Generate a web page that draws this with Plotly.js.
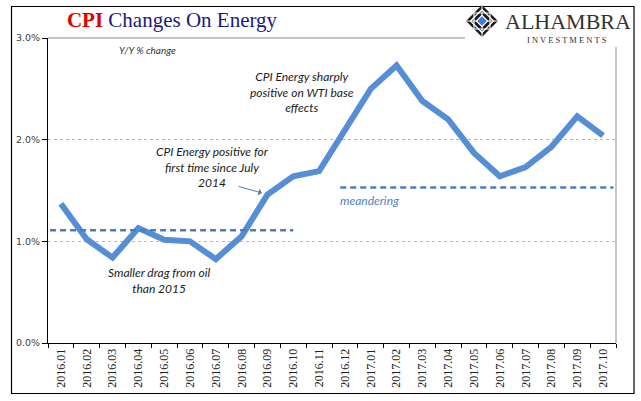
<!DOCTYPE html>
<html>
<head>
<meta charset="utf-8">
<script src="https://cdn.plot.ly/plotly-3.0.1.min.js"></script>
<style>html,body{margin:0;padding:0;background:#fff;}#chart{width:641px;height:401px;}</style>
</head>
<body>
<div id="chart"></div>
<script>
// ---- data ----
const categories = ['2016.01','2016.02','2016.03','2016.04','2016.05','2016.06','2016.07','2016.08','2016.09','2016.10','2016.11','2016.12',
                    '2017.01','2017.02','2017.03','2017.04','2017.05','2017.06','2017.07','2017.08','2017.09','2017.10'];
const cpiEnergy = [1.37,1.02,0.84,1.13,1.015,1.00,0.825,1.05,1.46,1.64,1.69,2.10,
                   2.50,2.73,2.38,2.20,1.87,1.64,1.73,1.93,2.23,2.04];
const yTickVals = [0,1,2,3];
// reference (dashed) levels: level, start index, end index
const refLevels = [1.11, 1.53];
const refStart = [-0.42, 10.82];
const refEnd = [9.0, 21.4];

// ---- layout helpers (plot area in px: x 48..616, y 38..343) ----
const L = 48, R = 616, T = 38, B = 343;
const W = R - L, H = B - T;
const px = x => (x - L) / W;
const py = y => (B - y) / H;

const shapes = [];
// dashed reference lines
for (let i = 0; i < refLevels.length; i++) {
  shapes.push({type:'line', xref:'x', yref:'y', x0:refStart[i], x1:refEnd[i], y0:refLevels[i], y1:refLevels[i],
    line:{color:'#4A7EBB', width:2.5, dash:'6px,4px'}, layer:'above'});
}
// white cover for grid behind logo
shapes.push({type:'rect', xref:'paper', yref:'paper', x0:px(465), x1:px(622), y0:py(46), y1:py(30),
  fillcolor:'#ffffff', line:{width:0}, layer:'above'});
// plot top border (gray) & right border (gray)
shapes.push({type:'line', xref:'paper', yref:'paper', x0:0, x1:px(465), y0:1, y1:1, line:{color:'#8c8c8c', width:1}, layer:'above'});
shapes.push({type:'line', xref:'paper', yref:'paper', x0:1, x1:1, y0:py(47), y1:0, line:{color:'#8c8c8c', width:1}, layer:'above'});
// outer frame
shapes.push({type:'rect', xref:'paper', yref:'paper', x0:px(11.5), x1:px(634), y0:py(393.5), y1:py(6.5),
  line:{color:'#000000', width:1.2}, fillcolor:'rgba(0,0,0,0)', layer:'below'});
// logo diamond
const cx = px(482), cy = py(21);
function diamond(h){ return `M 0 ${h} L ${h} 0 L 0 ${-h} L ${-h} 0 Z`; }
shapes.push({type:'path', xref:'paper', yref:'paper', xsizemode:'pixel', ysizemode:'pixel', xanchor:cx, yanchor:cy,
  path:diamond(16), fillcolor:'#1a1a1a', line:{width:0}, layer:'above'});
shapes.push({type:'path', xref:'paper', yref:'paper', xsizemode:'pixel', ysizemode:'pixel', xanchor:cx, yanchor:cy,
  path:diamond(11.5), fillcolor:'rgba(0,0,0,0)', line:{color:'#ffffff', width:1.3}, layer:'above'});
shapes.push({type:'path', xref:'paper', yref:'paper', xsizemode:'pixel', ysizemode:'pixel', xanchor:cx, yanchor:cy,
  path:'M -8 -8 L 8 -8 L 8 8 L -8 8 Z', fillcolor:'rgba(0,0,0,0)', line:{color:'#ffffff', width:1.1}, layer:'above'});
shapes.push({type:'path', xref:'paper', yref:'paper', xsizemode:'pixel', ysizemode:'pixel', xanchor:cx, yanchor:cy,
  path:'M -16 0 L 16 0 M 0 -16 L 0 16', line:{color:'#ffffff', width:1}, layer:'above'});
shapes.push({type:'path', xref:'paper', yref:'paper', xsizemode:'pixel', ysizemode:'pixel', xanchor:cx, yanchor:cy,
  path:diamond(6.5), fillcolor:'#ffffff', line:{width:0}, layer:'above'});
shapes.push({type:'path', xref:'paper', yref:'paper', xsizemode:'pixel', ysizemode:'pixel', xanchor:cx, yanchor:cy,
  path:diamond(4.8), fillcolor:'#3f7fd0', line:{width:0}, layer:'above'});

const noteFont = {family:'Lato, Carlito, sans-serif', size:12, color:'#1a1a1a', style:'italic'};
const annotations = [
  {xref:'paper', yref:'paper', x:px(147), y:py(50), text:'<i>Y/Y % change</i>', showarrow:false,
   font:{family:'Lato, sans-serif', size:10, color:'#333333'}, xanchor:'center', yanchor:'middle'},
  {xref:'paper', yref:'paper', x:px(302), y:py(92), text:'<i>CPI Energy sharply<br>positive on WTI base<br>effects</i>', showarrow:false,
   font:noteFont, xanchor:'center', yanchor:'middle', align:'center'},
  {xref:'paper', yref:'paper', x:px(212), y:py(167), text:'<i>CPI Energy positive for<br>first time since July<br>2014</i>', showarrow:false,
   font:noteFont, xanchor:'center', yanchor:'middle', align:'center'},
  {xref:'paper', yref:'paper', x:px(159), y:py(280), text:'<i>Smaller drag from oil<br>than 2015</i>', showarrow:false,
   font:noteFont, xanchor:'center', yanchor:'middle', align:'center'},
  {xref:'paper', yref:'paper', x:px(338), y:py(200), text:'<i>meandering</i>', showarrow:false,
   font:{family:'Lato, sans-serif', size:12, color:'#4F7FC0'}, xanchor:'left', yanchor:'middle'},
  // arrow
  {xref:'paper', yref:'paper', x:px(262), y:py(193), ax:px(237), ay:py(186), axref:'paper', ayref:'paper',
   text:'', showarrow:true, arrowhead:1, arrowsize:1.2, arrowwidth:1, arrowcolor:'#4F7FC0'},
  // logo text
  {xref:'paper', yref:'paper', x:px(568), y:py(21), text:'ALHAMBRA', showarrow:false,
   font:{family:'Liberation Serif, serif', size:22, color:'#333333'}, xanchor:'center', yanchor:'middle'},
  {xref:'paper', yref:'paper', x:px(567), y:py(40), text:'I N V E S T M E N T S', showarrow:false,
   font:{family:'Liberation Serif, serif', size:8.5, color:'#333333'}, xanchor:'center', yanchor:'middle'}
];

const traces = [{
  type:'scatter', mode:'lines', x:categories, y:cpiEnergy,
  line:{color:'#558ED5', width:6, shape:'linear'}, hoverinfo:'skip'
}];

const layout = {
  width:641, height:401,
  margin:{l:L, r:641-R, t:T, b:401-B, pad:0},
  paper_bgcolor:'#ffffff', plot_bgcolor:'#ffffff',
  showlegend:false,
  title:{text:'<span style="color:#e00000"><b>CPI</b></span> Changes On Energy',
    font:{family:'Liberation Serif, serif', size:21, color:'#1a1a80'},
    x:172/641, xanchor:'center', xref:'container', y:1-20/401, yanchor:'middle', yref:'container'},
  xaxis:{type:'category', range:[-0.5, categories.length-0.5], showgrid:false, zeroline:false,
    showline:true, linecolor:'#000000', linewidth:1,
    ticks:'outside', ticklen:4, tickcolor:'#000000', tickson:'boundaries',
    tickangle:-90, tickfont:{family:'Liberation Serif, serif', size:12, color:'#222222'}},
  yaxis:{range:[0,3], tickvals:yTickVals, ticktext:yTickVals.map(v => v.toFixed(1)+'%'),
    showgrid:true, gridcolor:'#b8b8b8', griddash:'dot', gridwidth:1, zeroline:false,
    showline:true, linecolor:'#000000', linewidth:1,
    ticks:'outside', ticklen:5, tickcolor:'#000000',
    tickfont:{family:'DejaVu Sans, sans-serif', size:9.5, color:'#404040'}},
  shapes:shapes, annotations:annotations
};

Plotly.newPlot('chart', traces, layout, {staticPlot:true, displayModeBar:false});
</script>
</body>
</html>
